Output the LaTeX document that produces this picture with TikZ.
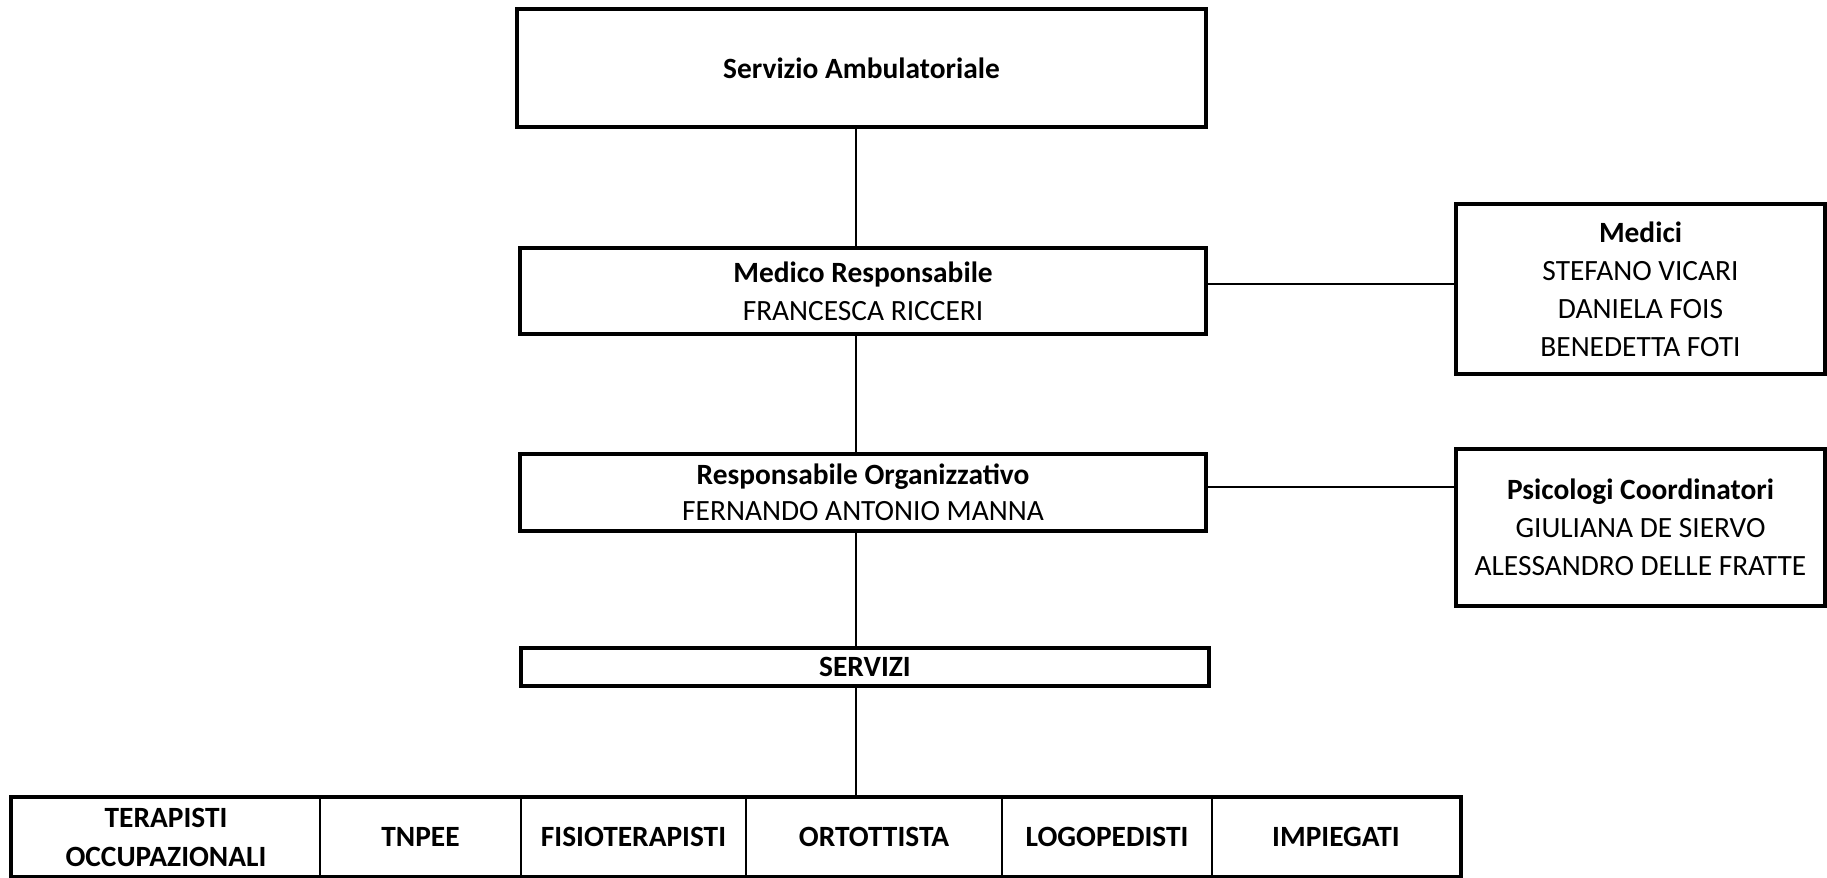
\documentclass[tikz,border=0pt]{standalone}
\usepackage{fontspec}
\setmainfont{Carlito}
\begin{document}
\begin{tikzpicture}[x=0.5pt,y=-0.5pt,
  box/.style={draw, line width=1.6pt, rectangle, inner sep=0pt, align=center,
    font=\fontsize{14.7}{19}\selectfont},
  cell/.style={draw, line width=1pt, rectangle, inner sep=0pt, align=center,
    minimum height=39pt, font=\fontsize{14.7}{19.5}\selectfont\bfseries},
  thin/.style={line width=0.6pt},
  mid/.style={line width=1.1pt}]
\useasboundingbox (0,0) rectangle (1827,878);
\fill[white] (0,0) rectangle (1827,878);

\node[box, minimum width=344.5pt, minimum height=59pt] (b1) at (861.5,68) {\textbf{Servizio Ambulatoriale}};
\node[box, minimum width=343pt, minimum height=43pt] (b2) at (863,291) {\textbf{Medico Responsabile}\\FRANCESCA RICCERI};
\node[box, minimum width=184.5pt, minimum height=85pt] (med) at (1640.5,289) {\textbf{Medici}\\STEFANO VICARI\\DANIELA FOIS\\BENEDETTA FOTI};
\node[box, minimum width=343pt, minimum height=38.5pt, font=\fontsize{14.7}{18}\selectfont] (b3) at (863,492.5) {\textbf{Responsabile Organizzativo}\\FERNANDO ANTONIO MANNA};
\node[box, minimum width=184.5pt, minimum height=78.5pt] (psi) at (1640.5,527.5) {\textbf{Psicologi Coordinatori}\\GIULIANA DE SIERVO\\ALESSANDRO DELLE FRATTE};
\node[box, minimum width=344pt, minimum height=19pt] (serv) at (865,667) {\textbf{SERVIZI}};

\node[cell, minimum width=154pt] (c1) at (166,837) {TERAPISTI\\OCCUPAZIONALI};
\node[cell, minimum width=100.5pt] (c2) at (420.5,837) {TNPEE};
\node[cell, minimum width=112.5pt] (c3) at (633.5,837) {FISIOTERAPISTI};
\node[cell, minimum width=128pt] (c4) at (874,837) {ORTOTTISTA};
\node[cell, minimum width=105pt] (c5) at (1107,837) {LOGOPEDISTI};
\node[cell, minimum width=124pt] (c6) at (1336,837) {IMPIEGATI};
\draw[line width=1.6pt] (c1.north west) rectangle (c6.south east);

\coordinate (spine) at (856,0);
\coordinate (h1) at (0,284);
\coordinate (h2) at (0,487);
\draw[thin] (b1.south -| spine) -- (b2.north -| spine);
\draw[thin] (b2.south -| spine) -- (b3.north -| spine);
\draw[thin] (b3.south -| spine) -- (serv.north -| spine);
\draw[thin] (serv.south -| spine) -- (c4.north -| spine);
\draw[mid] (b2.east |- h1) -- (med.west |- h1);
\draw[mid] (b3.east |- h2) -- (psi.west |- h2);
\end{tikzpicture}
\end{document}
